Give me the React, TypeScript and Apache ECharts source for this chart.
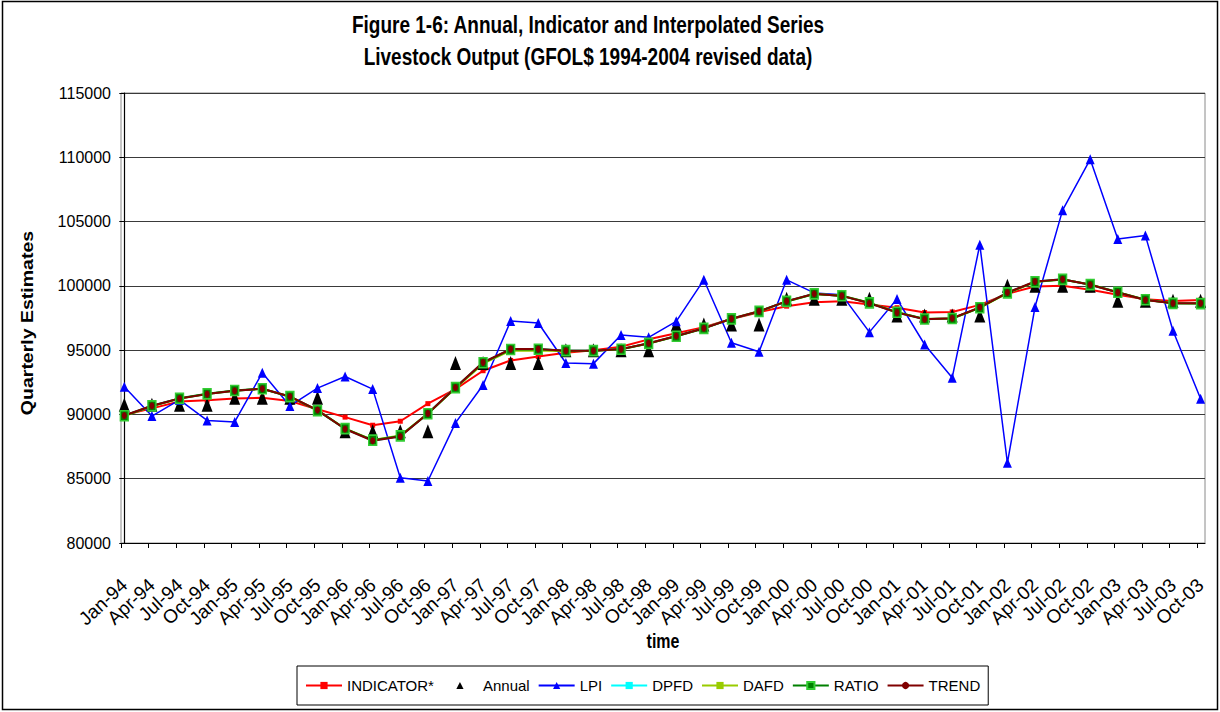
import React, { useEffect, useRef } from "react";
import * as echarts from "echarts";

const QUARTERS = [
  "Jan-94", "Apr-94", "Jul-94", "Oct-94",
  "Jan-95", "Apr-95", "Jul-95", "Oct-95",
  "Jan-96", "Apr-96", "Jul-96", "Oct-96",
  "Jan-97", "Apr-97", "Jul-97", "Oct-97",
  "Jan-98", "Apr-98", "Jul-98", "Oct-98",
  "Jan-99", "Apr-99", "Jul-99", "Oct-99",
  "Jan-00", "Apr-00", "Jul-00", "Oct-00",
  "Jan-01", "Apr-01", "Jul-01", "Oct-01",
  "Jan-02", "Apr-02", "Jul-02", "Oct-02",
  "Jan-03", "Apr-03", "Jul-03", "Oct-03",
];

const Y_MIN = 80000;
const Y_MAX = 115000;
const Y_STEP = 5000;

const INDICATOR = [
  89950, 90470, 91000, 91100, 91240, 91300, 91050, 90400,
  89790, 89160, 89470, 90840, 91970, 93400, 94200, 94500,
  94790, 95000, 95260, 95840, 96320, 96790, 97420, 97950,
  98420, 98730, 98800, 98550, 98300, 97920, 97970, 98520,
  99380, 99950, 100000, 99690, 99300, 98960, 98830, 98900,
];

const ANNUAL = [
  90750, 90750, 90750, 90750, 91300, 91300, 91300, 91300,
  88700, 88700, 88700, 88700, 94000, 94000, 94000, 94000,
  95000, 95000, 95000, 95000, 97000, 97000, 97000, 97000,
  99000, 99000, 99000, 99000, 97700, 97700, 97700, 97700,
  100000, 100000, 100000, 100000, 98850, 98850, 98850, 98850,
];

const LPI = [
  92160, 89870, 91130, 89530, 89420, 93240, 90660, 92050,
  92950, 91970, 85080, 84820, 89340, 92290, 97270, 97110,
  94000, 93950, 96180, 96000, 97240, 100470, 95580, 94870,
  100470, 99450, 99300, 96400, 98970, 95440, 92860, 103200,
  86240, 98350, 105890, 109840, 103650, 103910, 96510, 91220,
];

const DPFD = [
  89910, 90670, 91240, 91590, 91850, 92000, 91390, 90330,
  88880, 87960, 88300, 90070, 92090, 94040, 95070, 95080,
  94950, 94950, 95080, 95530, 96100, 96700, 97440, 98020,
  98800, 99380, 99220, 98660, 97930, 97400, 97470, 98320,
  99470, 100330, 100510, 100080, 99480, 98910, 98650, 98640,
];

const DAFD = [
  89880, 90640, 91230, 91590, 91850, 91990, 91390, 90330,
  88900, 88010, 88360, 90070, 92040, 93950, 94960, 94980,
  94920, 94960, 95070, 95510, 96080, 96700, 97450, 98020,
  98790, 99370, 99230, 98680, 97950, 97430, 97460, 98290,
  99440, 100300, 100490, 100100, 99500, 98920, 98640, 98630,
];

const RATIO = [
  89900, 90660, 91250, 91600, 91860, 92000, 91380, 90300,
  88900, 88000, 88330, 90050, 92080, 94020, 95050, 95070,
  94960, 94960, 95070, 95520, 96080, 96690, 97430, 98010,
  98790, 99370, 99230, 98680, 97950, 97420, 97460, 98300,
  99450, 100310, 100500, 100100, 99500, 98920, 98640, 98620,
];

const TREND = [
  89920, 90680, 91240, 91580, 91840, 92000, 91400, 90340,
  88870, 87950, 88290, 90080, 92100, 94050, 95080, 95080,
  94950, 94950, 95080, 95530, 96100, 96700, 97440, 98020,
  98810, 99390, 99220, 98650, 97920, 97400, 97480, 98330,
  99480, 100340, 100520, 100080, 99480, 98900, 98650, 98650,
];

const FONT = '"Liberation Sans", Arial, Helvetica, sans-serif';

const pairs = (vals: number[]) => vals.map((v, i) => [i, v]);

export default function App() {
  const ref = useRef<HTMLDivElement>(null);

  useEffect(() => {
    if (!ref.current) return;
    const chart = echarts.init(ref.current, null, { renderer: "svg" });

    const labelIdx = QUARTERS.map((_, i) => i);
    const tickIdx = QUARTERS.map((_, i) => i - 0.12);

    const option: any = {
      animation: false,
      backgroundColor: "#ffffff",
      textStyle: { fontFamily: FONT },
      grid: {
        left: 121,
        right: 15,
        top: 93,
        bottom: 169,
        show: true,
        borderColor: "#8a8a8a",
        borderWidth: 1,
        containLabel: false,
      },
      xAxis: {
        type: "value",
        min: -0.12,
        max: 39.16,
        axisLine: { show: true, onZero: false, lineStyle: { color: "#000", width: 1.2 } },
        axisTick: {
          show: true,
          length: 5,
          customValues: tickIdx,
          lineStyle: { color: "#000", width: 1 },
        },
        axisLabel: {
          customValues: labelIdx,
          formatter: (v: number) => QUARTERS[Math.round(v)] ?? "",
          rotate: 43,
          margin: 39,
          fontSize: 19,
          color: "#000",
          fontFamily: FONT,
        },
        splitLine: { show: false },
      },
      yAxis: {
        type: "value",
        min: Y_MIN,
        max: Y_MAX,
        interval: Y_STEP,
        axisLine: { show: true, lineStyle: { color: "#000", width: 1.2 } },
        axisTick: { show: true, length: 5, lineStyle: { color: "#000" } },
        axisLabel: {
          color: "#000",
          fontSize: 16,
          margin: 10,
          fontFamily: FONT,
          formatter: (v: number) => String(v),
        },
        splitLine: { show: true, lineStyle: { color: "#3a3a3a", width: 1 } },
      },
      legend: {
        left: 297,
        top: 666,
        orient: "horizontal",
        itemWidth: 36,
        itemHeight: 9,
        itemGap: 8,
        padding: [12, 8],
        borderColor: "#000",
        borderWidth: 1,
        backgroundColor: "#fff",
        textStyle: { fontSize: 15, color: "#000", fontFamily: FONT },
        data: ["INDICATOR*", "Annual", "LPI", "DPFD", "DAFD", "RATIO", "TREND"],
      },
      graphic: [
        {
          type: "rect",
          silent: true,
          shape: { x: 2.5, y: 1.5, width: 1215, height: 708 },
          style: { fill: "none", stroke: "#000", lineWidth: 1.5 },
          z: 100,
        },
        {
          type: "text",
          x: 588,
          y: 25,
          scaleY: 1.22,
          style: {
            text: "Figure 1-6: Annual, Indicator and Interpolated Series",
            font: `bold 19px ${FONT}`,
            fill: "#000",
            align: "center",
            verticalAlign: "middle",
            textAlign: "center",
            textVerticalAlign: "middle",
          },
        },
        {
          type: "text",
          x: 588,
          y: 57,
          scaleY: 1.22,
          style: {
            text: "Livestock Output (GFOL$ 1994-2004 revised data)",
            font: `bold 19px ${FONT}`,
            fill: "#000",
            align: "center",
            verticalAlign: "middle",
            textAlign: "center",
            textVerticalAlign: "middle",
          },
        },
        {
          type: "text",
          x: 28,
          y: 323,
          rotation: Math.PI / 2,
          scaleX: 1.22,
          style: {
            text: "Quarterly Estimates",
            font: `bold 16px ${FONT}`,
            fill: "#000",
            align: "center",
            verticalAlign: "middle",
            textAlign: "center",
            textVerticalAlign: "middle",
          },
        },
        {
          type: "text",
          x: 663,
          y: 641,
          scaleY: 1.22,
          style: {
            text: "time",
            font: `bold 16px ${FONT}`,
            fill: "#000",
            align: "center",
            verticalAlign: "middle",
            textAlign: "center",
            textVerticalAlign: "middle",
          },
        },
      ],
      series: [
        {
          name: "INDICATOR*",
          type: "line",
          data: pairs(INDICATOR),
          symbol: "rect",
          symbolSize: [5, 5],
          lineStyle: { color: "#ff0000", width: 2 },
          itemStyle: { color: "#ff0000" },
        },
        {
          name: "Annual",
          type: "line",
          data: pairs(ANNUAL),
          symbol: "triangle",
          symbolSize: [11, 14],
          lineStyle: { width: 0, opacity: 0 },
          itemStyle: { color: "#000000" },
        },
        {
          name: "LPI",
          type: "line",
          data: pairs(LPI),
          symbol: "triangle",
          symbolSize: [9, 10],
          lineStyle: { color: "#0000ff", width: 1.5 },
          itemStyle: { color: "#0000ff" },
        },
        {
          name: "DPFD",
          type: "line",
          data: pairs(DPFD),
          symbol: "rect",
          symbolSize: [5, 5],
          lineStyle: { color: "#00ffff", width: 2 },
          itemStyle: { color: "#00ffff" },
        },
        {
          name: "DAFD",
          type: "line",
          data: pairs(DAFD),
          symbol: "rect",
          symbolSize: [5, 5],
          lineStyle: { color: "#99cc00", width: 2 },
          itemStyle: { color: "#99cc00" },
        },
        {
          name: "RATIO",
          type: "line",
          data: pairs(RATIO),
          symbol: "rect",
          symbolSize: [8, 10],
          lineStyle: { color: "#008000", width: 2 },
          itemStyle: { color: "#008000", borderColor: "#33cc33", borderWidth: 1.5 },
        },
        {
          name: "TREND",
          type: "line",
          data: pairs(TREND),
          symbol: "circle",
          symbolSize: [5, 7],
          lineStyle: { color: "#800000", width: 2 },
          itemStyle: { color: "#800000" },
        },
      ],
    };

    chart.setOption(option);
    return () => chart.dispose();
  }, []);

  return (
    <div
      ref={ref}
      style={{ position: "fixed", left: 0, top: 0, width: 1220, height: 712, background: "#fff" }}
    />
  );
}
